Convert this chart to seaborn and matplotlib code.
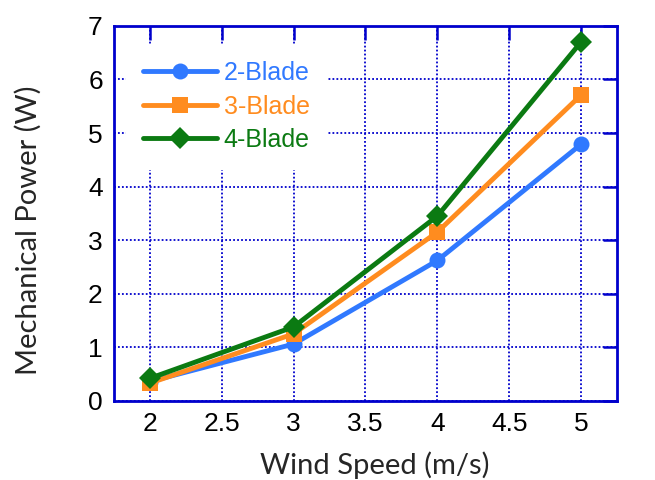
import matplotlib
matplotlib.use("Agg")
import matplotlib.pyplot as plt
import seaborn as sns
import pandas as pd
from matplotlib.lines import Line2D

wind_speed = [2, 3, 4, 5]
blade2 = [0.36, 1.06, 2.62, 4.79]
blade3 = [0.33, 1.25, 3.15, 5.71]
blade4 = [0.42, 1.38, 3.45, 6.70]
series_names = ["2-Blade", "3-Blade", "4-Blade"]
x_ticks = [2, 2.5, 3, 3.5, 4, 4.5, 5]
x_tick_labels = ["2", "2.5", "3", "3.5", "4", "4.5", "5"]
y_ticks = [0, 1, 2, 3, 4, 5, 6, 7]

colors = {"2-Blade": "#3079FF", "3-Blade": "#FF8C1F", "4-Blade": "#0B7A12"}
markers = {"2-Blade": "o", "3-Blade": "s", "4-Blade": "D"}

df = pd.concat([
    pd.DataFrame({"Wind Speed": wind_speed, "Power": vals, "Series": name})
    for name, vals in zip(series_names, [blade2, blade3, blade4])
], ignore_index=True)

sns.set_style("white")
plt.rcParams["font.family"] = ["Liberation Sans", "DejaVu Sans"]

fig = plt.figure(figsize=(6.55, 4.8), dpi=100)
ax = fig.add_axes([0.174, 0.165, 0.768, 0.781])

sns.lineplot(data=df, x="Wind Speed", y="Power", hue="Series", style="Series",
             palette=colors, markers=markers, dashes=False, ax=ax,
             linewidth=3.5, markersize=11.5, markeredgewidth=0, legend=False)

ax.set_xlim(1.75, 5.25)
ax.set_ylim(0, 7)
ax.set_xticks(x_ticks)
ax.set_xticklabels(x_tick_labels)
ax.set_yticks(y_ticks)

blue = "#0000CC"
for sp in ax.spines.values():
    sp.set_color(blue)
    sp.set_linewidth(2)
ax.tick_params(axis="both", which="major", direction="in", top=True, right=True,
               length=10, width=1.8, color=blue, labelcolor="black",
               labelsize=19, pad=8)
ax.grid(True, color=blue, linestyle=(0, (1, 1.2)), linewidth=1.3)
for l in ax.get_xgridlines() + ax.get_ygridlines():
    l.set_zorder(1)

ax.set_xlabel("Wind Speed (m/s)", fontsize=21, family=["Lato", "DejaVu Sans"])
ax.set_ylabel("Mechanical Power (W)", fontsize=21, family=["Lato", "DejaVu Sans"])
ax.xaxis.set_label_coords(0.519, -0.173)
ax.xaxis.label.set_va("center")
ax.yaxis.set_label_coords(-0.171, 0.456)
ax.yaxis.label.set_va("center")

handles = [Line2D([], [], color=colors[n], marker=markers[n], linewidth=3.5,
                  markersize=11.5, markeredgewidth=0) for n in series_names]
leg = ax.legend(handles, series_names, loc="upper left", bbox_to_anchor=(0.023, 0.953),
                fontsize=18, frameon=True, handlelength=2.95, handletextpad=0.28,
                labelspacing=0.38, borderpad=0.7, borderaxespad=0.0)
leg.get_frame().set_facecolor("white")
leg.get_frame().set_edgecolor("none")
leg.get_frame().set_alpha(1)
for t, n in zip(leg.get_texts(), series_names):
    t.set_color(colors[n])

fig.savefig("out.png", dpi=100)
